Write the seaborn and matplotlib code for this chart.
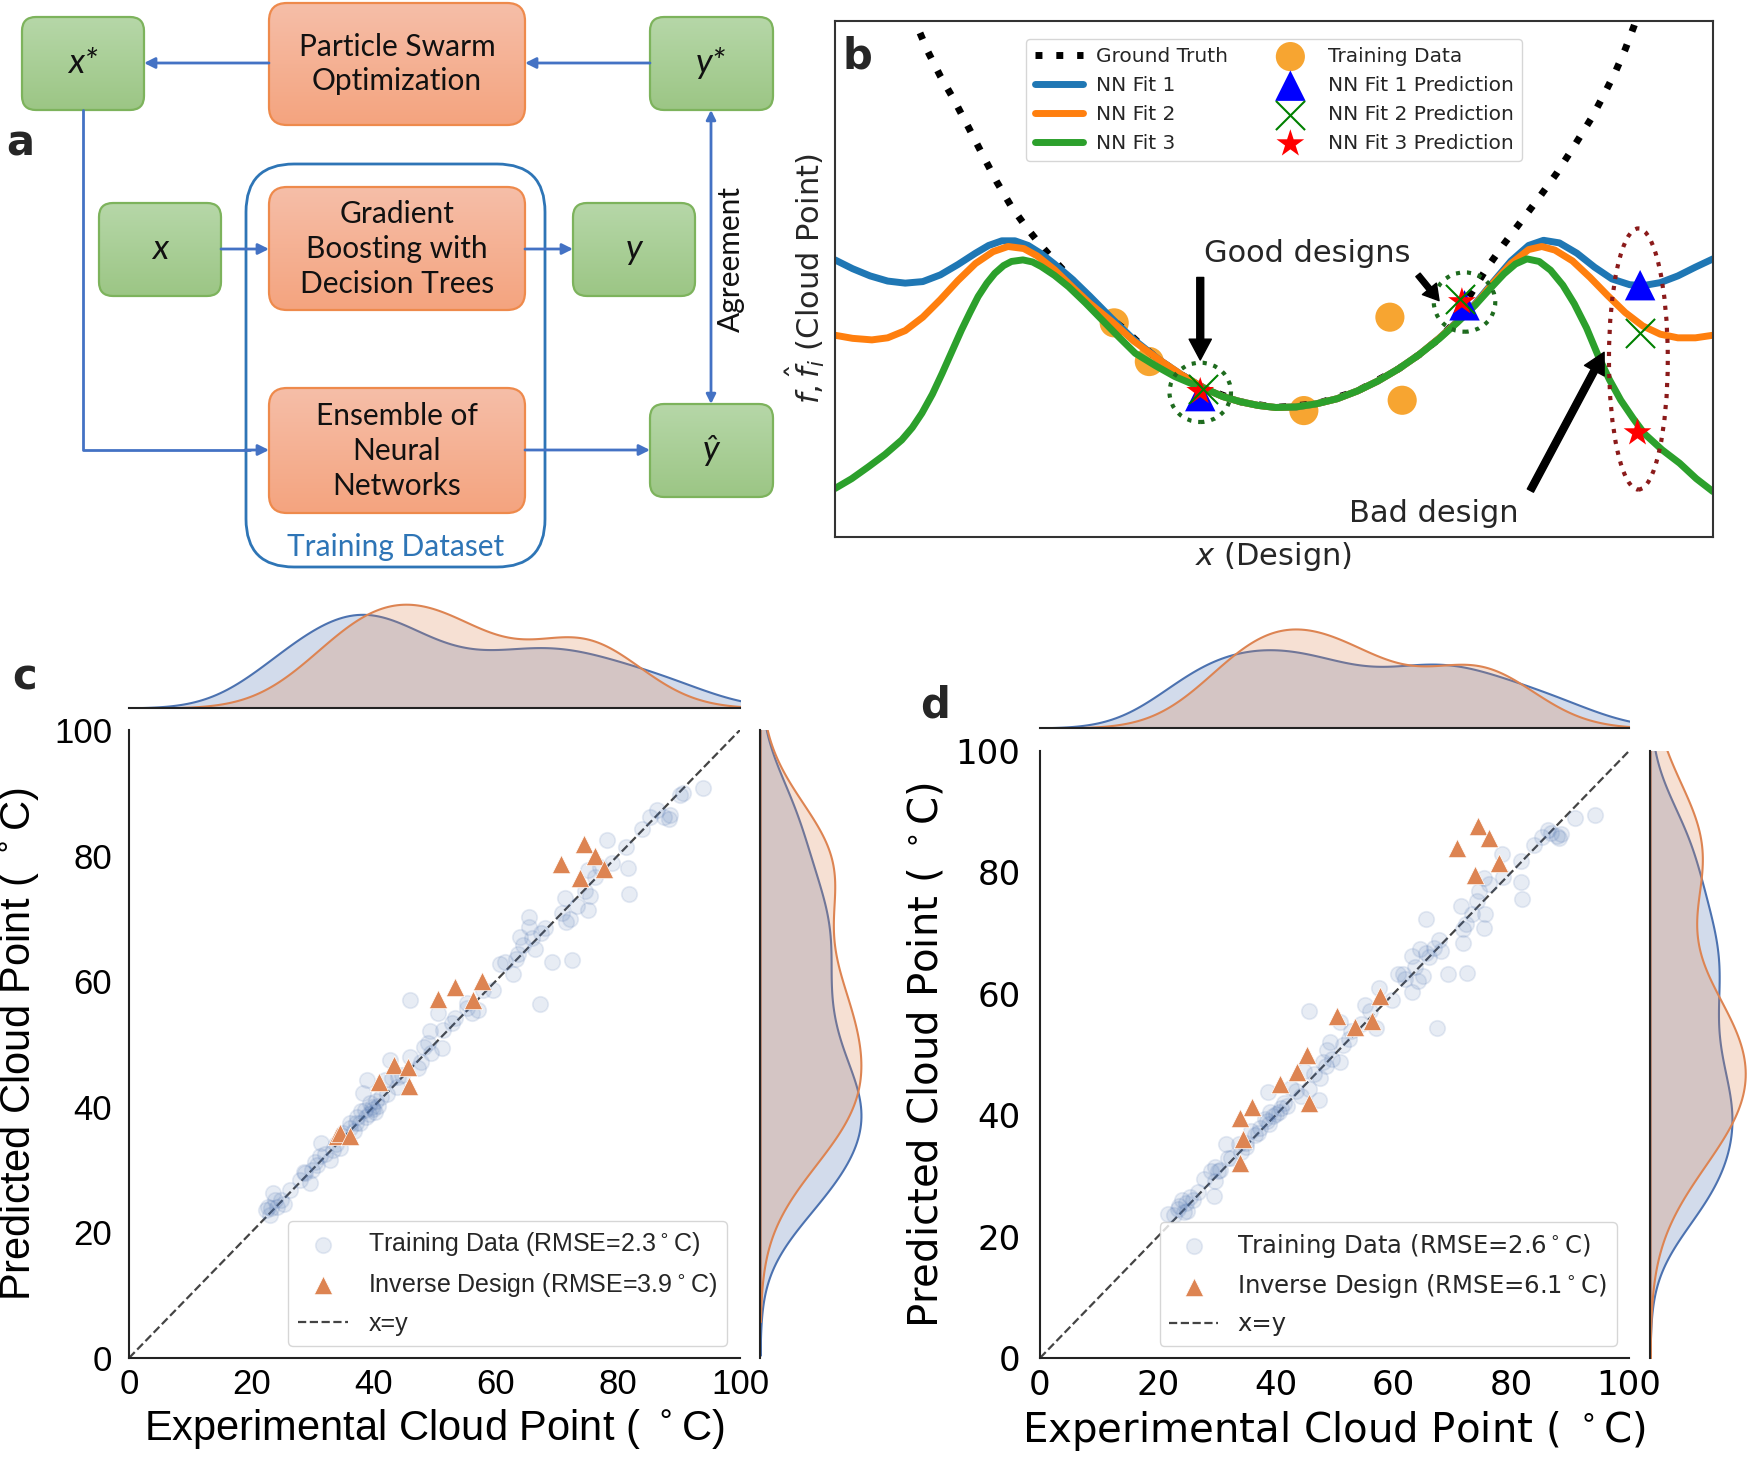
import numpy as np
import matplotlib
matplotlib.use("Agg")
import matplotlib.pyplot as plt
import seaborn as sns
from matplotlib.patches import FancyBboxPatch, Ellipse
from matplotlib.colors import LinearSegmentedColormap

# ================= DATA =================
# ---- panel b (x: design 0-100, y: cloud point 0-100)
gt_x = [8.9, 9.6, 10.6, 12.0, 13.5, 15.2, 16.8, 18.4, 20.1, 21.8, 23.5, 25.2, 26.8, 28.5, 30.2, 31.5, 32.8, 34.5,
        36.8, 39.5, 42.2, 46.2, 50.2, 54.8, 59.5, 64.2, 66.5, 68.8, 70.2, 72.2, 74.2, 76.2, 78.2, 80.2, 82.2, 84.2,
        86.2, 87.6, 88.9, 90.0, 91.0, 91.4]
gt_y = [101.5, 98.0, 94.0, 89.3, 84.9, 79.4, 74.1, 68.9, 64.0, 60.0, 56.4, 53.2, 50.3, 47.0, 43.8, 42.2, 40.5, 37.8,
        34.4, 31.4, 28.7, 26.2, 25.1, 25.8, 28.3, 32.6, 35.3, 38.4, 40.9, 46.5, 52.0, 56.8, 61.3, 65.8, 70.5, 75.8,
        81.3, 85.8, 90.2, 94.5, 99.0, 101.0]

fit1_x = [0, 2, 4, 6, 8, 10, 12, 14, 16, 17.5, 19.0, 20.5, 22, 23.5, 25, 27, 29, 31.5, 34, 36.8, 39.5, 42.2, 44.2,
          46.2, 48.2, 50.2, 52.5, 54.8, 57.2, 59.5, 61.8, 64.2, 66.5, 68.8, 70.9, 72.9, 75, 77, 79, 80.7, 82.5,
          84.5, 86.5, 88.5, 90.5, 92, 94, 96, 98, 100]
fit1_y = [53.7, 52.0, 50.6, 49.6, 49.2, 49.5, 50.8, 52.8, 55.0, 56.5, 57.4, 57.4, 56.5, 54.9, 52.9, 50.0, 46.7, 42.4,
          38.3, 34.5, 31.4, 28.7, 27.2, 26.2, 25.5, 25.1, 25.2, 25.8, 26.8, 28.3, 30.2, 32.6, 35.3, 38.5, 41.8, 45.2,
          49.5, 53.5, 56.5, 57.5, 57.0, 55.0, 52.3, 50.0, 48.9, 48.7, 49.3, 50.6, 52.3, 53.9]

fit2_x = [0, 2, 4.2, 6, 8, 10, 12, 14, 16, 18, 19.7, 21.5, 23, 25, 27, 29, 31.5, 34, 36.8, 39.5, 42.2, 44.2, 46.2,
          48.2, 50.2, 52.5, 54.8, 57.2, 59.5, 61.8, 64.2, 66.5, 68.8, 70.9, 72.9, 75, 77, 79, 80.5, 82, 84, 86, 88,
          90, 92, 94, 96, 98, 100]
fit2_y = [39.1, 38.5, 38.2, 38.6, 40.0, 42.6, 46.0, 49.7, 53.0, 55.3, 56.3, 55.9, 54.5, 51.8, 48.5, 45.3, 41.8,
          38.0, 34.5, 31.4, 28.7, 27.2, 26.2, 25.5, 25.1, 25.2, 25.8, 26.8, 28.3, 30.2, 32.6, 35.3, 38.5, 41.7, 45.0,
          49.3, 53.0, 55.7, 56.3, 55.6, 53.5, 50.3, 46.8, 43.5, 40.9, 39.3, 38.6, 38.6, 39.1]

fit3_x = [0, 1.9, 3.8, 5.7, 7.6, 8.8, 9.9, 11.1, 12.2, 13.3, 14.4, 15.4, 16.3, 17.3, 18.2, 19.2, 20.1, 21.4, 22.5,
          23.5, 25.0, 26.6, 28.5, 30.4, 32.3, 34.2, 36.5, 38.7, 40.5, 42.2, 44.2, 46.2, 48.2, 50.2, 52.5, 54.8, 57.2,
          59.5, 61.8, 64.2, 66.5, 68.8, 70.9, 72.9, 74.6, 76.2, 77.5, 78.8, 80.2, 81.5, 82.9, 84.2, 85.6, 86.9, 88.2,
          89.5, 90.9, 92.2, 94.2, 96.2, 98.1, 100]
fit3_y = [9.4, 11.3, 13.6, 16.0, 18.8, 21.2, 24.0, 27.7, 31.7, 35.9, 40.1, 43.6, 46.6, 49.2, 51.1, 52.6, 53.4, 53.7,
          53.3, 52.4, 50.7, 48.5, 45.4, 42.1, 38.8, 35.6, 33.2, 31.1, 29.8, 28.7, 27.2, 26.2, 25.5, 25.1, 25.2, 25.8,
          26.8, 28.3, 30.2, 32.6, 35.3, 38.4, 41.6, 44.9, 48.1, 51.0, 52.9, 53.9, 53.4, 51.7, 48.8, 45.2, 40.5, 35.2,
          30.5, 26.5, 23.0, 20.0, 16.9, 14.3, 11.3, 8.8]

btrain_x = [31.8, 35.8, 53.4, 63.2, 64.6]
btrain_y = [41.5, 34.0, 24.5, 42.6, 26.5]

pred1_x = [41.6, 71.7, 91.7]
pred1_y = [27.3, 44.9, 48.8]
pred2_x = [41.9, 71.2, 91.7]
pred2_y = [28.6, 46.1, 39.5]
pred3_x = [41.6, 71.4, 91.4]
pred3_y = [28.2, 45.6, 20.2]

# ---- panel c
c_train_exp = [22.8, 23.9, 23.6, 25.3, 26.4, 28.0, 28.8, 29.6, 29.9, 30.7, 31.3, 32.9, 31.5, 33.4, 34.5, 36.2, 37.3,
               37.8, 38.6, 38.9, 38.3, 40.3, 39.4, 41.9, 42.7, 43.8, 44.6, 46.0, 47.3, 48.2, 49.0, 49.5, 49.3, 51.2,
               51.4, 52.8, 53.3, 50.6, 46.0, 55.3, 56.1, 57.2, 55.3, 58.0, 59.6, 60.7, 61.5,
               22.5, 23.3, 24.3, 24.8, 23.0, 28.7, 33.9, 34.8, 36.1, 37.1, 39.3, 40.7, 43.0, 38.0, 39.8, 40.5,
               30.5, 32.0, 35.0, 36.8, 38.8, 40.0, 41.2, 42.3, 44.0, 47.8,
               94.0, 90.7, 90.2, 86.4, 85.3, 88.3, 87.5, 88.5, 83.9, 81.4, 78.2, 81.7, 81.9, 79.0, 77.1, 76.3, 75.2,
               75.5, 74.6, 75.2, 73.3, 71.4, 70.8, 71.6, 72.2, 72.5, 69.2, 67.3, 65.4, 65.5, 68.1, 67.5, 64.0, 65.9,
               64.5, 66.4, 63.7, 63.4, 62.9]
c_train_pred = [24.1, 25.2, 26.2, 24.6, 26.8, 28.3, 29.4, 27.9, 29.9, 30.7, 32.1, 31.5, 34.2, 33.1, 33.4, 37.4, 38.4,
                37.4, 39.5, 44.3, 42.2, 39.2, 40.6, 44.3, 47.5, 43.2, 45.1, 48.0, 46.1, 49.6, 50.1, 48.6, 52.0, 49.3,
                52.2, 53.3, 54.1, 54.9, 57.0, 55.7, 54.9, 55.4, 56.5, 58.6, 58.6, 62.8, 63.1,
                23.6, 23.9, 24.1, 25.2, 22.8, 29.6, 34.0, 35.3, 36.7, 37.5, 38.9, 40.2, 44.6, 39.3, 40.0, 41.0,
                31.2, 32.5, 35.8, 36.2, 38.3, 39.6, 41.5, 42.0, 44.8, 47.2,
                90.7, 89.9, 89.6, 87.3, 86.2, 85.9, 86.2, 86.5, 84.3, 81.4, 82.5, 78.0, 73.9, 78.8, 78.2, 76.6, 77.7,
                73.5, 74.3, 71.3, 71.9, 73.2, 70.8, 69.5, 69.9, 63.4, 63.1, 56.4, 70.3, 68.7, 68.4, 67.6, 67.1, 66.8,
                65.8, 65.2, 64.4, 63.6, 61.2]
c_inv_exp = [70.7, 74.5, 76.3, 73.8, 77.7, 50.5, 53.4, 57.8, 56.3, 43.4, 45.7, 40.9, 45.9, 34.0, 34.6, 36.2]
c_inv_pred = [78.6, 81.9, 79.9, 76.4, 77.9, 57.2, 59.1, 60.0, 57.0, 46.6, 46.4, 43.9, 43.3, 35.3, 35.9, 35.4]

# ---- panel d
d_train_exp = [94.2, 90.9, 88.5, 88.1, 86.2, 85.2, 83.8, 81.7, 78.4, 81.7, 81.9, 78.6, 76.3, 75.4, 74.6, 74.2, 75.6,
               73.3, 75.4, 71.4, 72.3, 71.8, 71.8, 72.5, 69.2, 67.4, 65.5, 67.8, 66.9, 65.5, 64.5, 63.1, 63.6, 65.0,
               64.1, 61.7, 60.8, 63.1, 59.8, 57.5, 57.0, 56.1, 55.1, 52.8, 50.9, 51.4, 49.2, 48.8, 48.5, 50.9, 47.6,
               45.7, 44.8, 45.7, 44.3, 47.3, 42.6, 38.7, 39.1, 40.1, 38.2, 37.3, 35.8, 33.8, 34.9, 31.6, 31.9, 29.7,
               29.1, 27.9, 29.7, 29.5, 26.9, 25.5, 24.1, 23.6, 24.4, 22.7, 21.7, 25.0,
               23.5, 24.8, 38.5, 39.6, 40.6, 48.0, 49.5, 35.0, 36.5, 30.5, 26.0, 41.5, 52.5, 54.5, 62.0, 66.0, 68.0,
               86.8, 87.8, 30.2, 32.5, 34.2, 37.0, 38.9, 41.0, 42.0, 43.5, 46.5]
d_train_pred = [89.5, 89.0, 86.3, 85.6, 87.0, 85.8, 84.5, 81.9, 83.1, 78.5, 75.6, 79.2, 78.1, 79.0, 76.9, 75.3, 73.2,
                73.1, 70.8, 74.4, 71.5, 70.6, 68.3, 63.5, 63.3, 54.3, 72.3, 68.8, 67.6, 66.7, 67.3, 66.2, 64.4, 63.0,
                62.1, 63.2, 63.2, 60.3, 58.9, 60.9, 54.3, 57.1, 58.2, 53.9, 55.3, 51.6, 52.1, 50.7, 48.1, 48.7, 46.1,
                57.1, 47.2, 44.3, 43.2, 42.5, 44.5, 43.8, 40.6, 40.2, 39.3, 37.9, 37.4, 35.3, 34.7, 35.2, 32.9, 31.5,
                30.8, 29.5, 29.2, 26.7, 27.4, 26.5, 26.0, 25.1, 24.0, 23.5, 23.7, 24.2,
                24.5, 25.5, 39.0, 39.8, 40.5, 48.8, 49.2, 35.5, 36.8, 31.0, 26.0, 42.0, 52.5, 55.0, 62.5, 66.0, 67.0,
                86.5, 86.0, 30.8, 33.0, 34.0, 37.0, 38.6, 41.2, 41.5, 44.0, 46.8]
d_inv_exp = [74.4, 76.3, 70.8, 77.9, 73.9, 50.4, 53.4, 56.3, 57.8, 45.4, 43.6, 40.7, 45.7, 36.0, 34.0, 34.4, 34.0]
d_inv_pred = [87.7, 85.7, 84.0, 81.6, 79.6, 56.4, 54.6, 55.6, 59.6, 50.0, 47.1, 45.2, 42.0, 41.3, 39.5, 36.1, 32.1]

diag = [0, 100]
ticks = [0, 20, 40, 60, 80, 100]

# ================= STYLE =================
sns.set_theme(style="white")
plt.rcParams["font.family"] = ["DejaVu Sans"]
plt.rcParams["mathtext.fontset"] = "dejavusans"

BLUE = "#4c72b0"
ORANGE = "#dd8452"
W, H = 1749, 1457
fig = plt.figure(figsize=(W / 100, H / 100), dpi=100)


def axes_px(x0, y0, x1, y1):
    return fig.add_axes([x0 / W, 1 - y1 / H, (x1 - x0) / W, (y1 - y0) / H])


# ================= PANEL a (diagram) =================
axa = fig.add_axes([0, 0, 1, 1])
axa.set_facecolor("none")
AFONT = "Lato"


def gbox(x0, y0, x1, y1, ctop, cbot, edge, r):
    p = FancyBboxPatch((x0, y0), x1 - x0, y1 - y0, boxstyle=f"round,pad=0,rounding_size={r}",
                       fc="none", ec=edge, lw=1.6, zorder=3)
    axa.add_patch(p)
    cmap = LinearSegmentedColormap.from_list("g", [ctop, cbot])
    im = axa.imshow(np.linspace(0, 1, 64)[:, None], extent=(x0, x1, y1, y0), cmap=cmap,
                    aspect="auto", zorder=2, interpolation="bilinear")
    im.set_clip_path(p)


GTOP, GBOT, GEDGE = "#b6d7a8", "#9cc685", "#7db35c"
OTOP, OBOT, OEDGE = "#f6bea8", "#f4a47f", "#ee8a4c"
ABLUE = "#4472c4"

axa.add_patch(FancyBboxPatch((246, 164), 299, 403, boxstyle="round,pad=0,rounding_size=48",
                             fc="none", ec="#2e75b6", lw=2, zorder=1))
gbox(22, 17, 144, 110, GTOP, GBOT, GEDGE, 14)
gbox(650, 17, 773, 110, GTOP, GBOT, GEDGE, 14)
gbox(99, 203, 221, 296, GTOP, GBOT, GEDGE, 14)
gbox(573, 203, 695, 296, GTOP, GBOT, GEDGE, 14)
gbox(650, 404, 773, 497, GTOP, GBOT, GEDGE, 14)
gbox(269, 3, 525, 125, OTOP, OBOT, OEDGE, 18)
gbox(269, 187, 525, 310, OTOP, OBOT, OEDGE, 18)
gbox(269, 388, 525, 513, OTOP, OBOT, OEDGE, 18)

tk = dict(ha="center", va="center", family=AFONT, fontsize=21.5, color="#111111", zorder=5, linespacing=1.3)
axa.text(397, 64, "Particle Swarm\nOptimization", **tk)
axa.text(397, 249, "Gradient\nBoosting with\nDecision Trees", **tk)
axa.text(397, 451, "Ensemble of\nNeural\nNetworks", **tk)
ik = dict(ha="center", va="center", family=AFONT, fontsize=25, style="italic", color="#111111", zorder=5)
axa.text(83, 63, "x*", **ik)
axa.text(711, 63, "y*", **ik)
axa.text(160, 249, "x", **ik)
axa.text(634, 249, "y", **ik)
axa.text(711, 450, "ŷ", **ik)
axa.text(731, 259, "Agreement", rotation=90, ha="center", va="center", family=AFONT, fontsize=21.5,
         color="#111111")
axa.text(396, 547, "Training Dataset", ha="center", va="center", family=AFONT, fontsize=21.5, color="#2e75b6")

ap = dict(arrowstyle="-|>", color=ABLUE, lw=2, mutation_scale=16, shrinkA=0, shrinkB=0)
axa.annotate("", xy=(144, 63), xytext=(269, 63), arrowprops=ap, zorder=4)
axa.annotate("", xy=(525, 63), xytext=(650, 63), arrowprops=ap, zorder=4)
axa.annotate("", xy=(269, 249), xytext=(221, 249), arrowprops=ap, zorder=4)
axa.annotate("", xy=(573, 249), xytext=(525, 249), arrowprops=ap, zorder=4)
axa.plot([83, 83, 250], [110, 450, 450], color=ABLUE, lw=2, zorder=4)
axa.annotate("", xy=(269, 450), xytext=(245, 450), arrowprops=ap, zorder=4)
axa.annotate("", xy=(650, 450), xytext=(525, 450), arrowprops=ap, zorder=4)
axa.annotate("", xy=(711, 110), xytext=(711, 404),
             arrowprops=dict(arrowstyle="<|-|>", color=ABLUE, lw=2, mutation_scale=14, shrinkA=0, shrinkB=0))

axa.set_xlim(0, W)
axa.set_ylim(H, 0)
axa.axis("off")

LFONT = dict(fontsize=30, fontweight="bold", family="DejaVu Sans", ha="center", va="center")
fig.text(20 / W, 1 - 143 / H, "a", **LFONT)
fig.text(25 / W, 1 - 677 / H, "c", **LFONT)
fig.text(935 / W, 1 - 705 / H, "d", **LFONT)

# ================= PANEL b =================
axb = axes_px(835, 21, 1713, 537)
sns.lineplot(x=gt_x, y=gt_y, ax=axb, color="black", lw=5, linestyle=(0, (1, 2)), dash_capstyle="butt",
             label="Ground Truth", estimator=None, sort=False, zorder=1.8)
sns.lineplot(x=fit1_x, y=fit1_y, ax=axb, color="#1f77b4", lw=5, label="NN Fit 1", estimator=None, sort=False)
sns.lineplot(x=fit2_x, y=fit2_y, ax=axb, color="#ff7f0e", lw=5, label="NN Fit 2", estimator=None, sort=False)
sns.lineplot(x=fit3_x, y=fit3_y, ax=axb, color="#2ca02c", lw=5, label="NN Fit 3", estimator=None, sort=False)
sns.scatterplot(x=btrain_x, y=btrain_y, ax=axb, color="#f7a531", s=440, edgecolor="none",
                label="Training Data", zorder=1.5)
sns.scatterplot(x=pred1_x, y=pred1_y, ax=axb, color="blue", marker="^", s=480, edgecolor="none",
                label="NN Fit 1 Prediction", zorder=5)
sns.scatterplot(x=pred2_x, y=pred2_y, ax=axb, color="green", marker="x", s=440, linewidth=1.5,
                label="NN Fit 2 Prediction", zorder=7)
sns.scatterplot(x=pred3_x, y=pred3_y, ax=axb, color="red", marker="*", s=440, edgecolor="none",
                label="NN Fit 3 Prediction", zorder=6)

for i in range(2):
    cy = (pred1_y[i] + pred2_y[i] + pred3_y[i]) / 3
    axb.add_patch(Ellipse((pred1_x[i], cy), 7.0, 11.5, fill=False, ls=":", lw=3, ec="#1e6b1e", zorder=8))
ys = [pred1_y[2], pred2_y[2], pred3_y[2]]
axb.add_patch(Ellipse((pred3_x[2] + 0.1, (max(ys) + min(ys)) / 2), 6.7, max(ys) - min(ys) + 22, fill=False,
                      ls=":", lw=3, ec="#8b1a1a", zorder=8))

arw = dict(facecolor="black", edgecolor="black", width=5, headwidth=16, headlength=15, shrink=0)
axb.annotate("", xy=(41.6, 34.3), xytext=(41.6, 50.3), arrowprops=arw, zorder=9)
axb.annotate("", xy=(68.8, 45.8), xytext=(66.4, 50.8), arrowprops=dict(arw, width=4, headwidth=13, headlength=11),
             zorder=9)
axb.annotate("", xy=(87.6, 35.8), xytext=(79.2, 9.0), arrowprops=arw, zorder=9)
axb.text(53.8, 55.0, "Good designs", fontsize=22, ha="center", va="center")
axb.text(68.2, 4.5, "Bad design", fontsize=22, ha="center", va="center")
axb.text(0.025, 0.932, "b", transform=axb.transAxes, fontsize=30, fontweight="bold", ha="center", va="center")

axb.set_xlim(0, 100)
axb.set_ylim(0, 100)
axb.set_xticks([])
axb.set_yticks([])
for s in axb.spines.values():
    s.set_visible(True)
    s.set_color("#333333")
    s.set_linewidth(1.5)
axb.set_xlabel("$x$ (Design)", fontsize=22, labelpad=2)
axb.set_ylabel(r"$f, \hat{f}_i$ (Cloud Point)", fontsize=22, labelpad=6)
h, l = axb.get_legend_handles_labels()
order = ["Ground Truth", "NN Fit 1", "NN Fit 2", "NN Fit 3", "Training Data", "NN Fit 1 Prediction",
         "NN Fit 2 Prediction", "NN Fit 3 Prediction"]
hd = dict(zip(l, h))
axb.legend([hd[k] for k in order], order, ncol=2, loc="upper center", bbox_to_anchor=(0.5, 0.985),
           fontsize=14.5, handlelength=2.4, handletextpad=0.65, columnspacing=1.9, labelspacing=0.5,
           borderpad=0.4, frameon=True)


# ================= PANELS c and d =================
def joint_panel(main_box, top_box, right_box, tx, ty, ix, iy, rmse_t, rmse_i, fam, tick_fs, lab_fs, leg_fs,
                xlab_y, ylab_x, xpad, ypad):
    ax = axes_px(*main_box)
    sns.lineplot(x=diag, y=diag, ax=ax, color="#444444", lw=1.6, linestyle="--", label="x=y", zorder=1)
    sns.scatterplot(x=tx, y=ty, ax=ax, color=BLUE, alpha=0.13, s=125, edgecolor=BLUE, linewidth=1.2,
                    label=f"Training Data (RMSE={rmse_t}$^\\circ$C)", zorder=2)
    sns.scatterplot(x=ix, y=iy, ax=ax, color=ORANGE, marker="^", s=175, edgecolor="white", linewidth=0.5,
                    label=f"Inverse Design (RMSE={rmse_i}$^\\circ$C)", zorder=3)
    ax.set_xlim(0, 100)
    ax.set_ylim(0, 100)
    ax.set_xticks(ticks)
    ax.set_yticks(ticks)
    ax.tick_params(axis="x", labelsize=tick_fs, length=0, pad=xpad, labelfontfamily=fam, labelcolor="black")
    ax.tick_params(axis="y", labelsize=tick_fs, length=0, pad=ypad, labelfontfamily=fam, labelcolor="black")
    sns.despine(ax=ax)
    for s in ["left", "bottom"]:
        ax.spines[s].set_color("#222222")
        ax.spines[s].set_linewidth(1.5)
    ax.set_xlabel("Experimental Cloud Point ( $^\\circ$C)", fontsize=lab_fs, family=fam, color="black")
    ax.set_ylabel("Predicted Cloud Point ( $^\\circ$C)", fontsize=lab_fs, family=fam, color="black")
    ax.xaxis.set_label_coords(0.5, xlab_y)
    ax.yaxis.set_label_coords(ylab_x, 0.5)
    hh, ll = ax.get_legend_handles_labels()
    hh = [hh[1], hh[2], hh[0]]
    ll = [ll[1], ll[2], ll[0]]
    ax.legend(hh, ll, loc="lower right", frameon=True, prop={"family": fam, "size": leg_fs})

    axt = axes_px(*top_box)
    sns.kdeplot(x=tx, ax=axt, color=BLUE, fill=True, alpha=0.25, linewidth=1.5)
    sns.kdeplot(x=ix, ax=axt, color=ORANGE, fill=True, alpha=0.25, linewidth=1.5)
    axt.set_xlim(0, 100)
    axt.set_ylim(0, axt.get_ylim()[1])
    axt.set_xticks([])
    axt.set_yticks([])
    axt.set_xlabel("")
    axt.set_ylabel("")
    sns.despine(ax=axt, left=True)
    axt.spines["bottom"].set_color("#222222")
    axt.spines["bottom"].set_linewidth(1.5)

    axr = axes_px(*right_box)
    sns.kdeplot(y=ty, ax=axr, color=BLUE, fill=True, alpha=0.25, linewidth=1.5)
    sns.kdeplot(y=iy, ax=axr, color=ORANGE, fill=True, alpha=0.25, linewidth=1.5)
    axr.set_ylim(0, 100)
    axr.set_xlim(0, axr.get_xlim()[1])
    axr.set_xticks([])
    axr.set_yticks([])
    axr.set_xlabel("")
    axr.set_ylabel("")
    sns.despine(ax=axr, bottom=True)
    axr.spines["left"].set_color("#222222")
    axr.spines["left"].set_linewidth(1.5)
    return ax


joint_panel((129, 730, 740, 1358), (129, 599, 740, 708), (760, 730, 866, 1358),
            c_train_exp, c_train_pred, c_inv_exp, c_inv_pred, "2.3", "3.9", "Liberation Sans",
            25, 30, 18, -0.078, -0.144, 7, 12)
joint_panel((1040, 751, 1629, 1358), (1040, 624, 1629, 728), (1650, 751, 1750, 1358),
            d_train_exp, d_train_pred, d_inv_exp, d_inv_pred, "2.6", "6.1", "DejaVu Sans",
            24.5, 29, 17.5, -0.084, -0.158, 8, 14)

fig.savefig("out.png", dpi=100)
